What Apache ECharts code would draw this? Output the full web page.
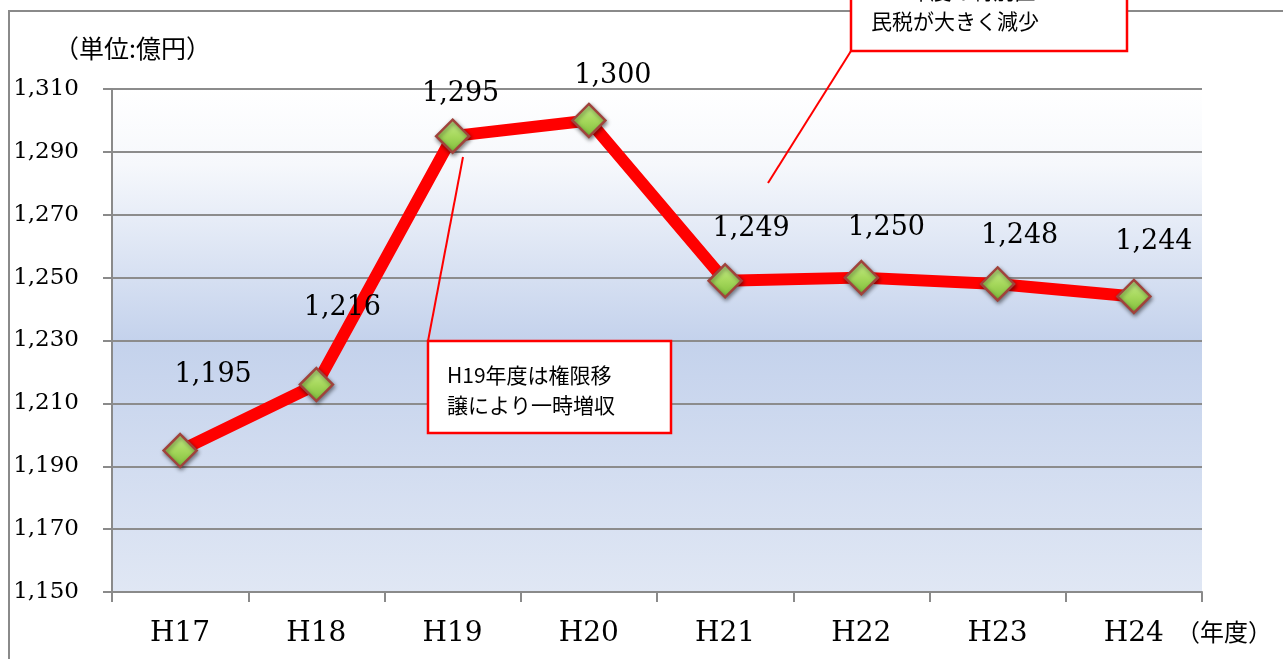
<!DOCTYPE html>
<html>
<head>
<meta charset="utf-8">
<script src="https://cdn.jsdelivr.net/npm/echarts@6/dist/echarts.min.js"></script>
<style>
html,body{margin:0;padding:0;background:#fff;}
#main{width:1283px;height:659px;}
</style>
</head>
<body>
<div id="main"></div>
<script>
// ---- data ----
var categories = ['H17', 'H18', 'H19', 'H20', 'H21', 'H22', 'H23', 'H24'];
var values = [1195, 1216, 1295, 1300, 1249, 1250, 1248, 1244];
var yMin = 1150, yMax = 1310, yStep = 20;
var unitLabel = '（単位:億円）';
var xUnitLabel = '（年度）';
var note1 = ['H19年度は権限移', '譲により一時増収'];
var note2 = ['H21年度の特別区', '民税が大きく減少'];
// label offsets (style only)
var labelShift = [[33,-76],[26,-77],[8,-42],[24,-44],[26,-52],[25,-50],[22,-48],[20,-55]];

function fmt(v){ return String(v).replace(/\B(?=(\d{3})+(?!\d))/g, ','); }

var seriesData = values.map(function(v, i){
  return {
    value: v - yMin,
    label: { offset: labelShift[i] }
  };
});

var chart = echarts.init(document.getElementById('main'), null, {renderer:'canvas'});
var serif = '"DejaVu Serif", "Liberation Serif", serif';
var sans = '"Noto Sans CJK JP", "Noto Sans", sans-serif';

var option = {
  animation: false,
  backgroundColor: '#ffffff',
  grid: {
    left: 112, top: 89, right: 81, bottom: 67,
    show: true, borderWidth: 0,
    backgroundColor: {
      type: 'linear', x: 0, y: 0, x2: 0, y2: 1,
      colorStops: [
        {offset: 0, color: '#ffffff'},
        {offset: 0.15, color: '#f6f8fc'},
        {offset: 0.5, color: '#c4d2ec'},
        {offset: 1, color: '#e0e7f4'}
      ]
    }
  },
  xAxis: {
    type: 'category',
    data: categories,
    boundaryGap: true,
    axisLine: { show: true, lineStyle: { color: '#8a8a8a', width: 2 } },
    axisTick: { show: true, length: 10, lineStyle: { color: '#8a8a8a', width: 2 } },
    axisLabel: { margin: 28, fontFamily: serif, fontSize: 28, color: '#000' },
    splitLine: { show: false }
  },
  yAxis: {
    type: 'value',
    min: 0, max: yMax - yMin, interval: yStep,
    axisLine: { show: true, lineStyle: { color: '#8a8a8a', width: 2 } },
    axisTick: { show: true, length: 9, lineStyle: { color: '#8a8a8a', width: 2 } },
    axisLabel: {
      margin: 33, fontFamily: serif, fontSize: 23, color: '#000',
      formatter: function(v){ return fmt(v + yMin); }
    },
    splitLine: { show: true, lineStyle: { color: '#8c8c8c', width: 2 } }
  },
  series: [{
    type: 'line',
    data: seriesData,
    symbol: 'diamond',
    symbolSize: 33,
    lineStyle: { color: '#ff0000', width: 12 },
    itemStyle: {
      color: {
        type: 'linear', x: 0, y: 0, x2: 0, y2: 1,
        colorStops: [
          {offset: 0, color: '#c8ee8e'},
          {offset: 0.5, color: '#a6d85c'},
          {offset: 1, color: '#7cbc38'}
        ]
      },
      borderColor: '#a0433c',
      borderWidth: 2.5,
      shadowBlur: 4,
      shadowColor: 'rgba(0,0,0,0.45)',
      shadowOffsetX: 1,
      shadowOffsetY: 2
    },
    label: {
      show: true,
      position: 'inside',
      fontFamily: serif,
      fontSize: 27,
      color: '#000',
      formatter: function(p){ return fmt(values[p.dataIndex]); }
    },
    z: 3
  }],
  graphic: [
    { type: 'rect', z: 0, silent: true,
      shape: { x: 9, y: 11, width: 1300, height: 700 },
      style: { fill: 'none', stroke: '#8a8a8a', lineWidth: 2 } },
    { type: 'text', z: 10, left: 54, top: 36,
      style: { text: unitLabel, font: '25px ' + sans, fill: '#000' } },
    { type: 'text', z: 10, left: 1176, top: 620,
      style: { text: xUnitLabel, font: '24px ' + sans, fill: '#000' } },
    // callout 1
    { type: 'line', z: 20, silent: true,
      shape: { x1: 428, y1: 341, x2: 463, y2: 157 },
      style: { stroke: '#ff0000', lineWidth: 2 } },
    { type: 'rect', z: 21, silent: true,
      shape: { x: 428, y: 341, width: 243, height: 92 },
      style: { fill: '#ffffff', stroke: '#ff0000', lineWidth: 2.5 } },
    { type: 'text', z: 22, silent: true, left: 447, top: 360,
      style: { text: note1.join('\n'), font: '21px ' + sans, lineHeight: 30, fill: '#000' } },
    // callout 2
    { type: 'line', z: 20, silent: true,
      shape: { x1: 851, y1: 51, x2: 768, y2: 183 },
      style: { stroke: '#ff0000', lineWidth: 2 } },
    { type: 'rect', z: 21, silent: true,
      shape: { x: 851, y: -60, width: 276, height: 111 },
      style: { fill: '#ffffff', stroke: '#ff0000', lineWidth: 2.5 } },
    { type: 'text', z: 22, silent: true, left: 871, top: -24,
      style: { text: note2.join('\n'), font: '21px ' + sans, lineHeight: 30, fill: '#000' } }
  ]
};
chart.setOption(option);
</script>
</body>
</html>
